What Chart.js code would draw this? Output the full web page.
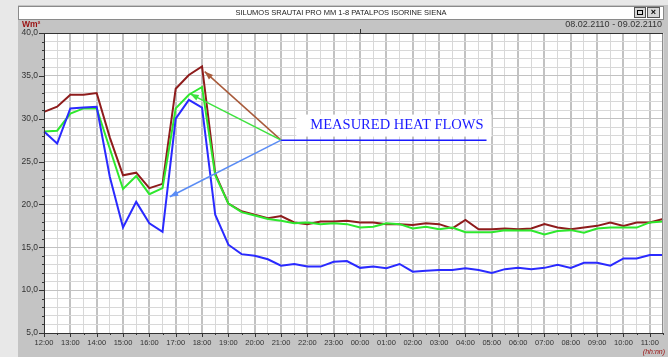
<!DOCTYPE html>
<html>
<head>
<meta charset="utf-8">
<script src="https://cdn.jsdelivr.net/npm/chart.js@4"></script>
<style>
  html, body { margin: 0; padding: 0; background: #e6e6e6; }
  #wrap { width: 668px; height: 357px; }
</style>
</head>
<body>
<div id="wrap"><canvas id="myChart" width="668" height="357"></canvas></div>
<script>
const ctx = document.getElementById("myChart")

// half-hour samples, 08.02 12:00 -> 09.02 11:30
const times = [
  '12:00','12:30','13:00','13:30','14:00','14:30','15:00','15:30','16:00','16:30',
  '17:00','17:30','18:00','18:30','19:00','19:30','20:00','20:30','21:00','21:30',
  '22:00','22:30','23:00','23:30','00:00','00:30','01:00','01:30','02:00','02:30',
  '03:00','03:30','04:00','04:30','05:00','05:30','06:00','06:30','07:00','07:30',
  '08:00','08:30','09:00','09:30','10:00','10:30','11:00','11:30'
]

const redFlow = [
  30.8, 31.4, 32.8, 32.8, 33.0, 27.8, 23.4, 23.7, 21.9, 22.4,
  33.5, 35.1, 36.1, 23.6, 20.1, 19.2, 18.8, 18.4, 18.65, 17.9,
  17.7, 18.0, 18.0, 18.1, 17.9, 17.9, 17.7, 17.7, 17.6, 17.8,
  17.7, 17.2, 18.2, 17.1, 17.1, 17.2, 17.1, 17.2, 17.7, 17.3,
  17.1, 17.3, 17.5, 17.9, 17.5, 17.9, 17.9, 18.3
]
const greenFlow = [
  28.5, 28.6, 30.6, 31.2, 31.2, 26.5, 21.8, 23.3, 21.2, 21.9,
  31.2, 32.8, 33.7, 23.4, 20.1, 19.1, 18.7, 18.3, 18.1, 17.8,
  17.9, 17.7, 17.8, 17.7, 17.3, 17.4, 17.8, 17.7, 17.2, 17.4,
  17.1, 17.3, 16.75, 16.75, 16.75, 17.0, 16.95, 16.95, 16.5, 16.9,
  17.0, 16.7, 17.2, 17.3, 17.3, 17.3, 17.9, 18.0
]
const blueFlow = [
  28.5, 27.1, 31.2, 31.3, 31.4, 23.2, 17.3, 20.3, 17.8, 16.8,
  30.0, 32.2, 31.3, 18.8, 15.3, 14.2, 14.0, 13.6, 12.85, 13.05,
  12.75, 12.75, 13.3, 13.4, 12.6, 12.75, 12.55, 13.05, 12.15, 12.25,
  12.35, 12.35, 12.55, 12.35, 12.0, 12.45, 12.6, 12.45, 12.6, 12.95,
  12.6, 13.2, 13.2, 12.85, 13.7, 13.7, 14.1, 14.1
]

// annotation in data units: [index, value]
const noteOrigin = [18, 27.5]
const noteLineEnd = [33.6, 27.5]
const noteTargets = [
  [[12.2, 35.5], '#a85a3a'],
  [[11.1, 32.9], '#3ee23e'],
  [[9.55, 20.9], '#5a8cf5']
]
const noteText = 'MEASURED HEAT FLOWS'
const notePos = [26.8, 29.2]

const SANS = "'Liberation Sans', Arial, sans-serif"

function arrow(c, x0, y0, x1, y1, col) {
  c.strokeStyle = col
  c.fillStyle = col
  c.lineWidth = 1.5
  c.beginPath(); c.moveTo(x0, y0); c.lineTo(x1, y1); c.stroke()
  const a = Math.atan2(y1 - y0, x1 - x0)
  c.beginPath()
  c.moveTo(x1, y1)
  c.lineTo(x1 - 9 * Math.cos(a - 0.35), y1 - 9 * Math.sin(a - 0.35))
  c.lineTo(x1 - 9 * Math.cos(a + 0.35), y1 - 9 * Math.sin(a + 0.35))
  c.closePath()
  c.fill()
}

const frame = {
  id: 'frame',
  beforeDraw(chart) {
    const c = chart.ctx, a = chart.chartArea
    c.save()
    c.fillStyle = '#e8e8e8'
    c.fillRect(0, 0, chart.width, chart.height)
    c.fillStyle = '#c4c4c4'
    c.fillRect(18, 5, chart.width - 18, chart.height - 5)
    // title bar
    c.fillStyle = '#ffffff'
    c.fillRect(18, 6, 646, 13)
    c.strokeStyle = '#8a8a8a'
    c.lineWidth = 1
    c.strokeRect(18.5, 6.5, 645, 13)
    c.fillStyle = '#222'
    c.font = '7.5px ' + SANS
    c.textAlign = 'center'
    c.textBaseline = 'middle'
    c.fillText('SILUMOS SRAUTAI PRO MM 1-8 PATALPOS ISORINE SIENA', 341, 13)
    // window buttons
    c.fillStyle = '#d8d8d8'
    c.fillRect(634, 7, 12, 11)
    c.fillRect(647, 7, 13, 11)
    c.strokeStyle = '#555'
    c.strokeRect(634.5, 7.5, 11, 10)
    c.strokeRect(647.5, 7.5, 12, 10)
    c.strokeStyle = '#000'
    c.strokeRect(637.5, 10.5, 5, 4)
    c.font = 'bold 9px ' + SANS
    c.fillStyle = '#000'
    c.fillText('×', 653.5, 12.5)
    // unit + date range
    c.textAlign = 'left'
    c.fillStyle = '#9a1010'
    c.font = 'bold 8.5px ' + SANS
    c.fillText('Wm²', 22, 25)
    c.textAlign = 'right'
    c.fillStyle = '#333'
    c.font = '9px ' + SANS
    c.fillText('08.02.2110 - 09.02.2110', 662, 25)
    c.fillStyle = '#9a1010'
    c.font = 'italic 7px ' + SANS
    c.fillText('(hh:nn)', 665, 352)
    // plot background
    c.fillStyle = '#ffffff'
    c.fillRect(a.left, a.top, a.right - a.left, a.bottom - a.top)
    c.restore()
  },
  afterDraw(chart) {
    const c = chart.ctx, a = chart.chartArea
    const xs = chart.scales.x, ys = chart.scales.y
    c.save()
    // frame + axes
    c.strokeStyle = '#8c8c8c'
    c.lineWidth = 1
    c.strokeRect(a.left + 0.5, a.top + 0.5, a.right - a.left - 1, a.bottom - a.top)
    c.strokeStyle = '#333'
    c.beginPath()
    c.moveTo(a.left + 0.5, a.top); c.lineTo(a.left + 0.5, a.bottom + 0.5)
    c.lineTo(a.right, a.bottom + 0.5)
    c.moveTo(a.left, a.top + 0.5); c.lineTo(a.right, a.top + 0.5)
    c.stroke()
    // tick marks
    c.beginPath()
    for (let v = 5; v <= 40; v++) {
      const y = Math.round(ys.getPixelForValue(v)) + 0.5
      const len = v % 5 === 0 ? 5 : 2
      c.moveTo(a.left - len, y); c.lineTo(a.left, y)
    }
    times.forEach((t, i) => {
      const x = Math.round(xs.getPixelForValue(i)) + 0.5
      const len = i % 2 === 0 ? 4 : 2
      c.moveTo(x, a.bottom); c.lineTo(x, a.bottom + len)
    })
    const mid = Math.round(xs.getPixelForValue(times.indexOf('00:00'))) + 0.5
    c.moveTo(mid, a.top - 4); c.lineTo(mid, a.top)
    c.stroke()
    // annotation
    const px = p => [xs.getPixelForValue(p[0]), ys.getPixelForValue(p[1])]
    const o = px(noteOrigin)
    c.font = '14.5px "Liberation Serif", "DejaVu Serif", serif'
    const tp = px(notePos)
    const tw = c.measureText(noteText).width
    c.fillStyle = '#ffffff'
    c.fillRect(tp[0] - tw / 2 - 14, tp[1] - 11, tw + 22, 22)
    c.fillStyle = '#1a1aff'
    c.textAlign = 'center'
    c.textBaseline = 'middle'
    c.fillText(noteText, tp[0], tp[1])
    const e = px(noteLineEnd)
    c.strokeStyle = '#1a1aff'
    c.lineWidth = 1.5
    c.beginPath(); c.moveTo(o[0], o[1]); c.lineTo(e[0], e[1]); c.stroke()
    noteTargets.forEach(([p, col]) => {
      const t = px(p)
      arrow(c, o[0], o[1], t[0], t[1], col)
    })
    c.restore()
  }
}

function series(label, data, color) {
  return {
    label: label,
    data: data,
    borderColor: color,
    backgroundColor: color,
    borderWidth: 2,
    pointRadius: 0,
    tension: 0,
    fill: false
  }
}

const myChart = new Chart(ctx, {
  type: 'line',
  data: {
    labels: times,
    datasets: [
      series('blue', blueFlow, '#2a2aff'),
      series('green', greenFlow, '#2ee82e'),
      series('red', redFlow, '#8e1c1c')
    ]
  },
  options: {
    responsive: false,
    animation: false,
    layout: { padding: { top: 33, right: 4, left: 0, bottom: 0 } },
    plugins: {
      legend: { display: false },
      tooltip: { enabled: false }
    },
    scales: {
      x: {
        type: 'category',
        offset: false,
        afterFit: s => { s.height = 24 },
        border: { display: false },
        grid: {
          drawTicks: false,
          color: c => c.index % 2 === 0 ? '#c2c2c2' : '#d8d8d8',
          lineWidth: c => c.index % 2 === 0 ? 2 : 1
        },
        ticks: {
          autoSkip: false,
          maxRotation: 0,
          padding: 5,
          color: '#333',
          font: { family: SANS, size: 7.5 },
          callback: (v, i) => i % 2 === 0 ? times[i] : ''
        }
      },
      y: {
        min: 5,
        max: 40,
        afterFit: s => { s.width = 44 },
        border: { display: false },
        grid: {
          drawTicks: false,
          color: c => c.tick && c.tick.value % 5 === 0 ? '#c2c2c2' : '#d8d8d8',
          lineWidth: 1
        },
        ticks: {
          stepSize: 1,
          autoSkip: false,
          padding: 6,
          color: '#333',
          font: { family: SANS, size: 8.5 },
          callback: v => v % 5 === 0 ? v.toFixed(1).replace('.', ',') : ''
        }
      }
    }
  },
  plugins: [frame]
});
</script>
</body>
</html>
